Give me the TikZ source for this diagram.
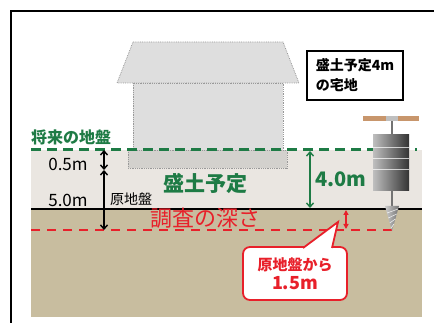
\documentclass[tikz,border=0pt]{standalone}
\usepackage{fontspec}
\setmainfont{Noto Sans CJK JP}
\usetikzlibrary{arrows.meta, positioning}
\definecolor{fillGray}{HTML}{EAE6E1}
\definecolor{soilTan}{HTML}{C8BD9F}
\definecolor{dGreen}{HTML}{1E7B45}
\definecolor{sRed}{HTML}{E8202A}
\definecolor{houseGray}{HTML}{DEDEDE}
\definecolor{baseGray}{HTML}{D3D1CD}
\definecolor{handleTan}{HTML}{C8966C}
\newcommand{\fsz}[2]{\fontsize{#1}{#2}\selectfont}

\begin{document}
\begin{tikzpicture}[x=1pt, y=-1pt,
      dim/.style={{Straight Barb[length=4pt,width=7pt]}-{Straight Barb[length=4pt,width=7pt]}, line width=1.4pt},
      outl/.style={draw=black!40, densely dotted, line width=0.8pt}]
    \useasboundingbox (0,0) rectangle (434,323);
    \draw[line width=1.6pt] (11,323) -- (11,11) -- (434,11);
    % fill layer on top of the original ground
    \fill[soilTan] (31,209) rectangle (422,317);
    \fill[fillGray] (31,150) rectangle (422,209);
    % house
    \draw[outl, fill=houseGray] (133,42) -- (283,42) -- (299,83) -- (117,83) -- cycle;
    \draw[outl, fill=houseGray] (133,83) rectangle (283,150);
    \draw[outl, fill=baseGray] (128,150) rectangle (287,168);
    % levels: future / original / probe depth
    \draw[dGreen, line width=3pt, dash pattern=on 10pt off 6pt] (31,150) -- (417,150);
    \draw[line width=1.8pt] (31,209) -- (422,209);
    \draw[sRed, line width=1.3pt, dash pattern=on 9pt off 7pt] (31,230) -- (398,230);

    \coordinate (newTop) at (104,150);
    \coordinate (halfM) at (104,170);
    \coordinate (probeEnd) at (104,230);
    \draw[dim] (newTop) -- (halfM);
    \draw[dim] (halfM) -- (probeEnd);
    \coordinate (fillTop) at (310,151);
    \coordinate (fillBot) at (310,208);
    \draw[dim, dGreen] (fillTop) -- (fillBot);
    \coordinate (origLvl) at (346,210);
    \coordinate (probeLvl) at (346,229);
    \draw[sRed, line width=1.3pt, {Triangle[length=5pt,width=5pt]}-{Triangle[length=5pt,width=5pt]}] (origLvl) -- (probeLvl);

    \node[dGreen, font=\fsz{16}{16}\bfseries, anchor=west, inner sep=0pt] (future) at (31,137) {将来の地盤};
    \node[font=\fsz{17}{17}, inner sep=0pt] (dHalf) at (68,164) {0.5m};
    \node[font=\fsz{17}{17}, inner sep=0pt] (dFive) at (68,200) {5.0m};
    \node[font=\fsz{14}{14}, inner sep=0pt] (orig) at (131,199) {原地盤};
    \node[dGreen, font=\fsz{21}{21}\bfseries, inner sep=0pt] (fillLbl) at (205,184) {盛土予定};
    \node[sRed, font=\fsz{22}{22}, inner sep=0pt] (depth) at (205,218) {調査の深さ};
    \node[dGreen, font=\fsz{20}{20}\bfseries, inner sep=0pt] (fourM) at (341,179) {4.0m};
    \node[draw, line width=1.3pt, minimum width=96pt, minimum height=49pt, align=left,
      font=\fsz{14}{20}\bfseries] (plan) at (355,75.5) {盛土予定4m\\の宅地};

    % callout
    \node[draw=sRed, line width=1.8pt, fill=white, rounded corners=7pt, minimum width=104pt,
      minimum height=53pt, align=center, text=sRed, font=\bfseries] (note) at (295,273.5)
      {{\fsz{15}{18}原地盤から}\\[3pt]{\fsz{18}{20}1.5m}};
    \coordinate (tip) at (338,222);
    \filldraw[fill=white, draw=sRed, line width=1.8pt, line join=miter] (303,248) -- (tip) -- (332,248);

    % hand auger
    \draw[black!55, line width=1.5pt] (392,118) -- (392,207);
    \fill[handleTan] (363,116) rectangle (419,121);
    \fill[black!25] (386,116) rectangle (398,121);
    \shade[left color=black!25, right color=black!80] (373,135) rectangle (409,191);
    \foreach \y in {147,158,169} \draw[white, opacity=0.7, line width=0.8pt] (373,\y) -- (409,\y);
    \shade[left color=black!20, right color=black!55] (385,206) -- (399,206) -- (392,231) -- cycle;
    \foreach \y in {211,216,221,226} \draw[white, opacity=0.8, line width=0.6pt]
      ({392-7*(231-\y-2)/25},\y+2) -- ({392+7*(231-\y+2)/25},\y-2);
\end{tikzpicture}
\end{document}
